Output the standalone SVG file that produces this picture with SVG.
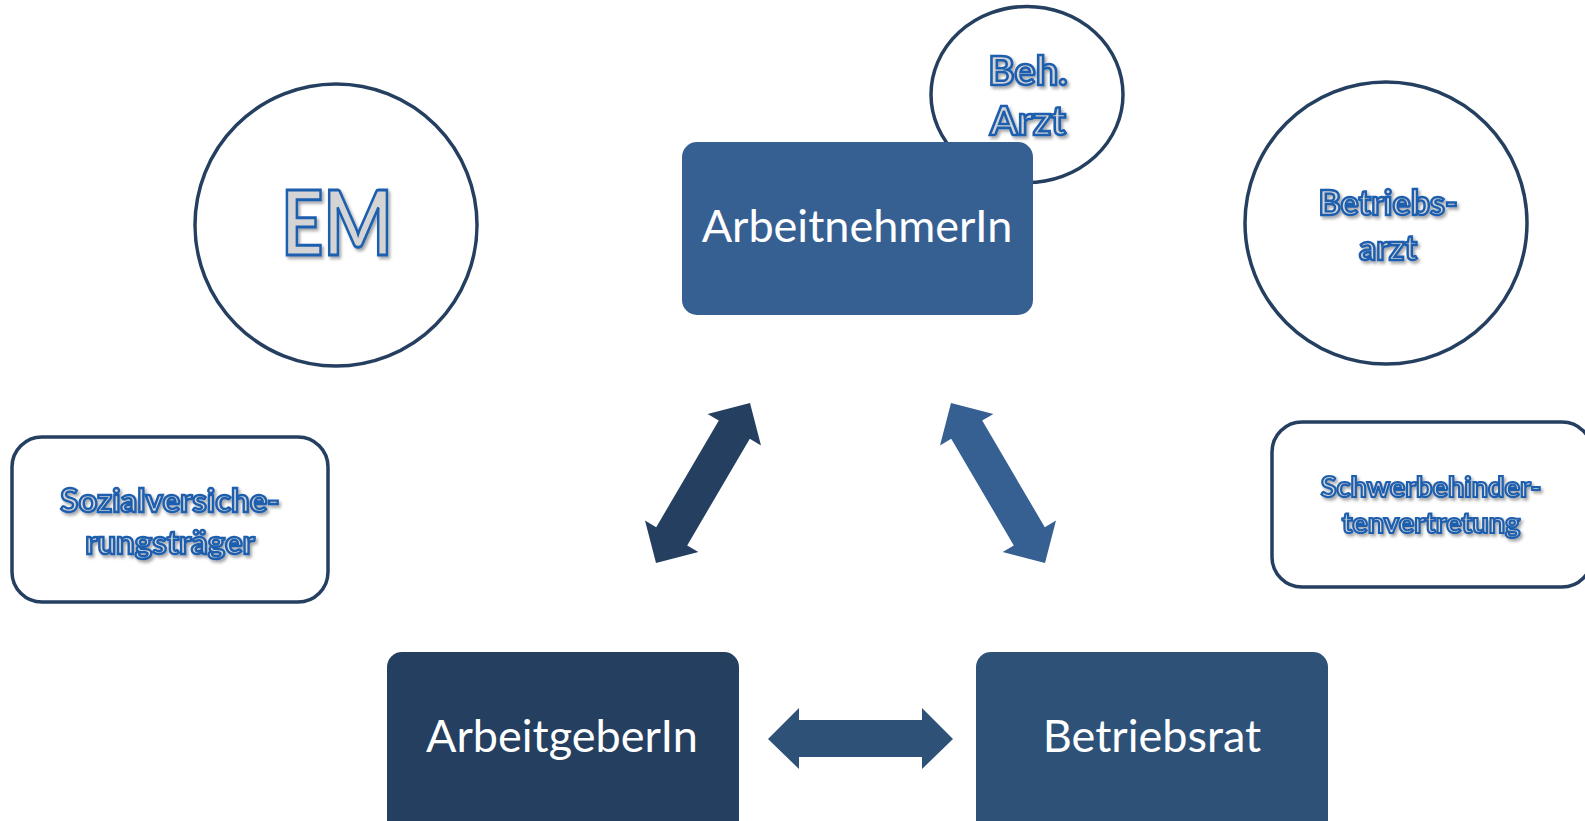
<svg xmlns="http://www.w3.org/2000/svg" width="1585" height="821" viewBox="0 0 1585 821">
  <defs>
    <filter id="shadow" x="-20%" y="-20%" width="140%" height="140%">
      <feDropShadow dx="2" dy="2.5" stdDeviation="1.5" flood-color="#000" flood-opacity="0.35"/>
    </filter>
    <style>
      .ring { fill: #ffffff; stroke: #243f60; stroke-width: 3.5; }
      .box { stroke: none; }
      .main { font-family: Lato, "Open Sans", sans-serif; fill: #ffffff; text-anchor: middle; }
      .outl { font-family: Lato, "Open Sans", sans-serif; fill: #d4d4d4; stroke: #1f5eae; text-anchor: middle; font-weight: bold; filter: url(#shadow); }
    </style>
  </defs>
  <rect width="1585" height="821" fill="#ffffff"/>

  <g id="em">
    <circle class="ring" cx="336" cy="225" r="141"/>
    <text class="outl" x="337" y="255" font-size="90" font-weight="normal" stroke-width="3" textLength="112" lengthAdjust="spacingAndGlyphs">EM</text>
  </g>

  <g id="beh-arzt">
    <ellipse class="ring" cx="1027" cy="94.5" rx="96" ry="88"/>
    <text class="outl" font-size="40" stroke-width="2.6"><tspan x="1028" y="85">Beh.</tspan><tspan x="1028" y="135">Arzt</tspan></text>
  </g>

  <g id="arbeitnehmer">
    <rect class="box" x="682" y="142" width="351" height="173" rx="15" fill="#376092"/>
    <text class="main" x="857" y="242" font-size="45">ArbeitnehmerIn</text>
  </g>

  <g id="betriebsarzt">
    <circle class="ring" cx="1386" cy="223" r="141"/>
    <text class="outl" font-size="34" stroke-width="2.4"><tspan x="1388" y="215">Betriebs-</tspan><tspan x="1388" y="260">arzt</tspan></text>
  </g>

  <g id="sozialversicherung">
    <rect class="ring" x="12" y="437" width="316" height="165" rx="30"/>
    <text class="outl" font-size="33" stroke-width="2.4"><tspan x="170" y="512">Sozialversiche-</tspan><tspan x="170" y="554">rungsträger</tspan></text>
  </g>

  <g id="schwerbehindertenvertretung">
    <rect class="ring" x="1272" y="422" width="320" height="165" rx="30"/>
    <text class="outl" font-size="29" stroke-width="2.2"><tspan x="1431" y="497">Schwerbehinder-</tspan><tspan x="1431" y="533">tenvertretung</tspan></text>
  </g>

  <g id="arbeitgeber">
    <rect class="box" x="387" y="652" width="352" height="185" rx="15" fill="#243f60"/>
    <text class="main" x="562" y="752" font-size="45">ArbeitgeberIn</text>
  </g>

  <g id="betriebsrat">
    <rect class="box" x="976" y="652" width="352" height="185" rx="15" fill="#2e5178"/>
    <text class="main" x="1152" y="752" font-size="45">Betriebsrat</text>
  </g>

  <g id="connectors">
    <polygon fill="#243f60" points="750,403 707.6,414 718.8,420.6 656.2,527.2 645,520.6 656,563 698.4,552 687.2,545.4 749.8,438.8 761,445.4"/>
    <polygon fill="#376092" points="951,403 993.4,414 982.2,420.6 1044.8,527.2 1056,520.6 1045,563 1002.6,552 1013.8,545.4 951.2,438.8 940,445.4"/>
    <polygon fill="#2e5178" points="768,739 799,708 799,720 922,720 922,708 953,739 922,769 922,757 799,757 799,769"/>
  </g>
</svg>
